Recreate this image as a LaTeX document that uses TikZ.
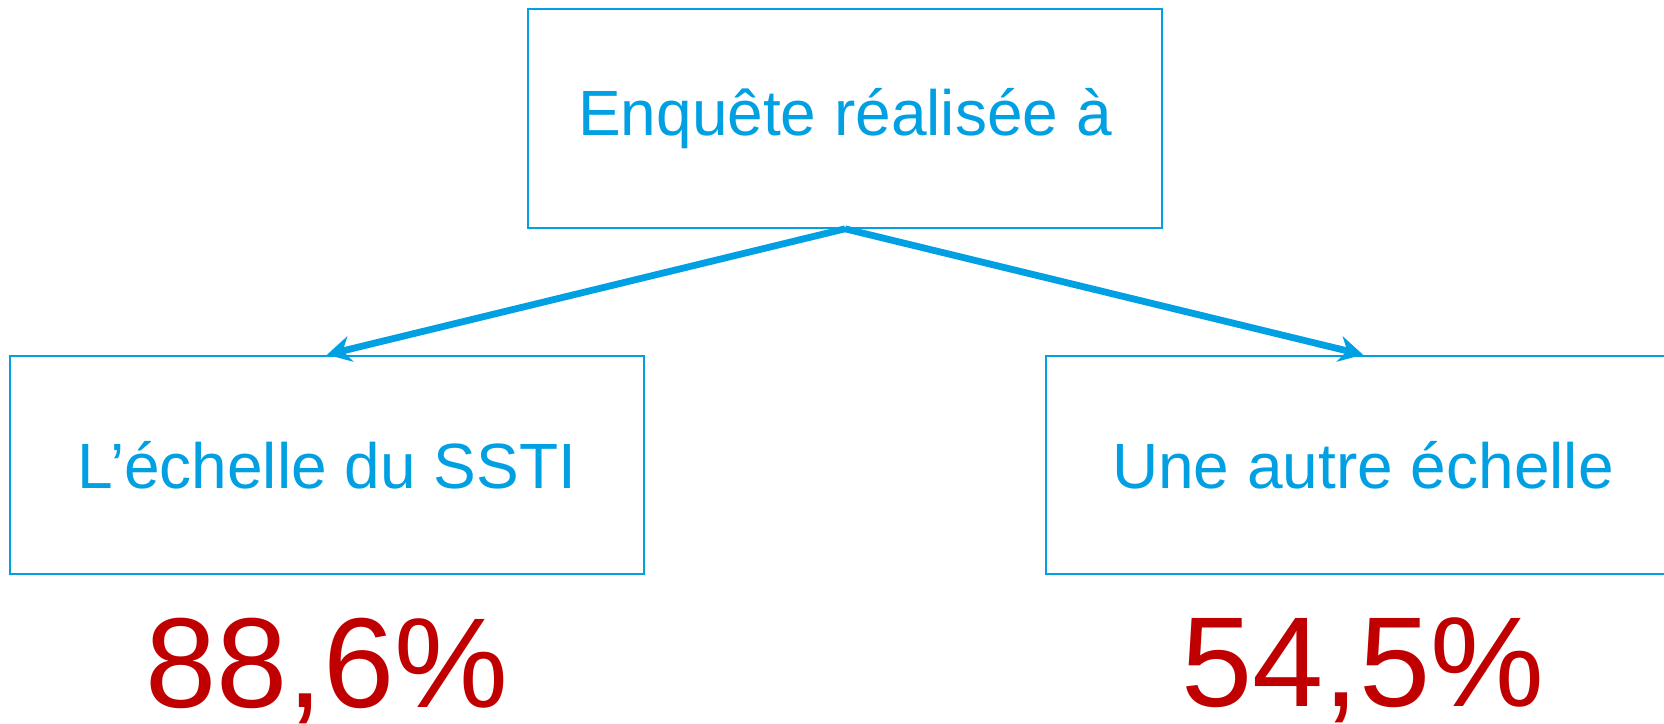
\documentclass[tikz,border=0pt]{standalone}
\usepackage{fontspec}
\setmainfont{Liberation Sans}
\usetikzlibrary{arrows.meta,positioning}
\definecolor{enqblue}{RGB}{0,160,227}
\definecolor{pctred}{RGB}{192,0,0}
\tikzset{
    box/.style={draw=enqblue, line width=1pt, text=enqblue,
        minimum width=317pt, minimum height=109.3pt,
        font=\fontsize{32}{38}\selectfont},
    pct/.style={text=pctred, inner sep=0pt, font=\fontsize{64}{76}\selectfont}
}
\begin{document}
\begin{tikzpicture}[x=0.5pt,y=-0.5pt,
        level distance=173.25pt, sibling distance=518pt,
        edge from parent/.style={draw=enqblue, line width=3.4pt,
            -{Stealth[length=12pt,width=13pt]}},
        edge from parent path={(\tikzparentnode.south) -- (\tikzchildnode.north)}]
    \clip (0,0) rectangle (1664,723);
    \node[box] (enquete) at (845,118.5) {Enquête réalisée à}
        child {
            node[box] (ssti) {L’échelle du SSTI}
        }
        child {
            node[box] (autre) {Une autre échelle}
        };
    \node[pct, below=21pt of ssti] (pctssti) {88,6\%};
    \node[pct, below=21pt of autre] (pctautre) {54,5\%};
\end{tikzpicture}
\end{document}
